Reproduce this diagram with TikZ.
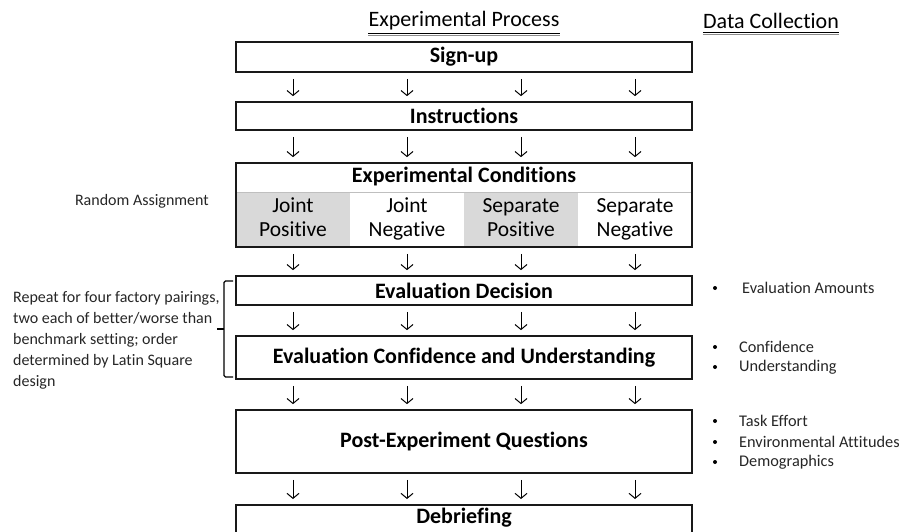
\documentclass[tikz,border=0pt]{standalone}
\usepackage{fontspec}
\setmainfont{Carlito}[Ligatures=NoCommon]
\usetikzlibrary{arrows.meta}
\definecolor{cellgray}{HTML}{D9D9D9}
\definecolor{sidetext}{HTML}{262626}
\tikzset{
  stagebox/.style={draw=black!90, line width=1.7pt, fill=white, minimum width=456pt, inner sep=0pt,
    font=\fontsize{22}{24}\selectfont\bfseries},
  title/.style={inner sep=0pt, font=\fontsize{22}{24}\selectfont\bfseries},
  cell/.style={minimum width=114pt, minimum height=55pt, inner sep=0pt, align=center,
    font=\fontsize{21.5}{24}\selectfont},
  heading/.style={inner sep=0pt, font=\fontsize{22}{24}\selectfont},
  uline/.style={line width=0.7pt},
  flowarrow/.style={line width=1pt, -{Straight Barb[length=5pt,width=12pt,line width=1pt]},
    shorten <=6pt, shorten >=5pt},
  note/.style={inner sep=0pt, text=sidetext, font=\fontsize{16}{21}\selectfont, align=left},
  bullet/.style={circle, fill=black, inner sep=0pt, minimum size=4pt},
  bullettext/.style={inner sep=0pt, anchor=west, text=sidetext, font=\fontsize{16.3}{21}\selectfont},
  bracket/.style={line width=1.1pt, rounded corners=1.5pt}
}
\begin{document}
\begin{tikzpicture}[x=1pt,y=-1pt]
\useasboundingbox (0,0) rectangle (899,532);

% headings
\node[heading] (hproc) at (464,21) {Experimental Process};
\draw[uline] ([yshift=-3pt]hproc.south west) -- ([yshift=-3pt]hproc.south east);
\draw[uline, black!45] ([yshift=-5pt]hproc.south west) -- ([yshift=-5pt]hproc.south east);
\node[heading] (hdata) at (771,21) {Data Collection};
\draw[uline] ([yshift=-3pt]hdata.south west) -- ([yshift=-3pt]hdata.south east);
\draw[uline, black!45] ([yshift=-5pt]hdata.south west) -- ([yshift=-5pt]hdata.south east);

% columns
\coordinate (c1) at (293,0);
\coordinate (c2) at (407,0);
\coordinate (c3) at (521,0);
\coordinate (c4) at (635,0);

% stages
\node[stagebox, minimum height=30pt] (signup) at (464,57) {Sign-up};
\node[stagebox, minimum height=28pt] (instr) at (464,116) {Instructions};

% experimental conditions
\node[cell, fill=cellgray] (jp) at (293,219.5) {Joint\strut\\Positive\strut};
\node[cell] (jn) at (407,219.5) {Joint\strut\\Negative\strut};
\node[cell, fill=cellgray] (sp) at (521,219.5) {Separate\strut\\Positive\strut};
\node[cell] (sn) at (635,219.5) {Separate\strut\\Negative\strut};
\draw[black!25, line width=0.6pt] (jp.north west) -- (sn.north east);
\node[stagebox, minimum height=84pt, fill=none] (cond) at (464,205) {};
\node[title] (condtitle) at (464,177) {Experimental Conditions};

\node[stagebox, minimum height=29pt] (evdec) at (464,290.5) {Evaluation Decision};
\node[stagebox, minimum height=43pt] (evconf) at (464,357.5) {Evaluation Confidence and Understanding};
\node[stagebox, minimum height=63pt] (post) at (464,441.5) {Post-Experiment Questions};
\node[stagebox, minimum height=56pt, anchor=north] (debrief) at (464,504) {};
\node[title] (debrieftitle) at (464,518) {Debriefing};

% arrows
\foreach \a/\b in {signup/instr, instr/cond, cond/evdec, evdec/evconf, evconf/post, post/debrief}{
  \foreach \c in {c1,c2,c3,c4}{
    \draw[flowarrow] (\a.south -| \c) -- (\b.north -| \c);
  }
}

% left side
\node[note, anchor=east] (random) at (209,201) {Random Assignment};
\node[note, anchor=north west] (repeat) at (13,291) {Repeat for four factory pairings,\\two each of better/worse than\\benchmark setting; order\\determined by Latin Square\\design};
\coordinate (brtop) at (233,281);
\coordinate (brbot) at (233,377);
\coordinate (brtip) at (217,329);
\draw[bracket] (brtop) -- (224,281) -- (224,377) -- (brbot);
\draw[line width=1.1pt] (224,329) -- (brtip);

% data collection
\node[bullet] (b1) at (715,288) {};
\node[bullettext] (t1) at (742,288) {Evaluation Amounts};
\node[bullet] (b2) at (715,347) {};
\node[bullettext] (t2) at (739,347) {Confidence};
\node[bullet] (b3) at (715,367) {};
\node[bullettext] (t3) at (739,367) {Understanding};
\node[bullet] (b4) at (715,421) {};
\node[bullettext] (t4) at (739,421) {Task Effort};
\node[bullet] (b5) at (715,442) {};
\node[bullettext] (t5) at (739,442) {Environmental Attitudes};
\node[bullet] (b6) at (715,462) {};
\node[bullettext] (t6) at (739,462) {Demographics};
\end{tikzpicture}
\end{document}
